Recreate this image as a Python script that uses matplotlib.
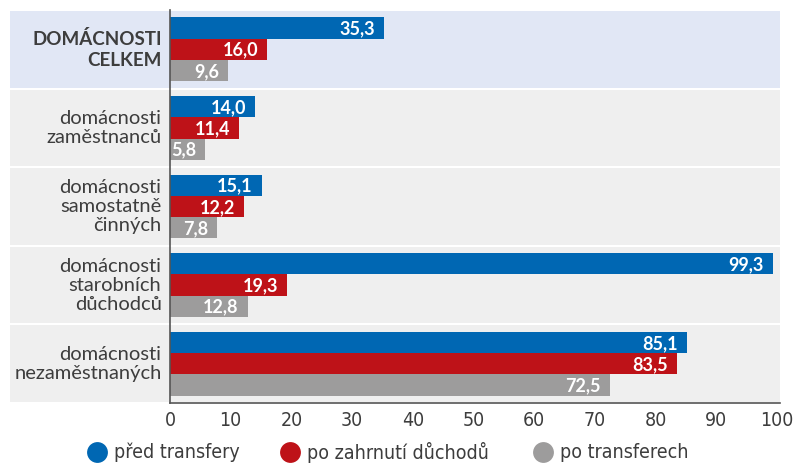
import matplotlib.pyplot as plt
from matplotlib.patches import Rectangle
from matplotlib.lines import Line2D
from matplotlib import font_manager

# data
categories = ['DOMÁCNOSTI\nCELKEM', 'domácnosti\nzaměstnanců', 'domácnosti\nsamostatně\nčinných',
              'domácnosti\nstarobních\ndůchodců', 'domácnosti\nnezaměstnaných']
pred_transfery = [35.3, 14.0, 15.1, 99.3, 85.1]
po_duchodech = [16.0, 11.4, 12.2, 19.3, 83.5]
po_transferech = [9.6, 5.8, 7.8, 12.8, 72.5]
series_names = ['před transfery', 'po zahrnutí důchodů', 'po transferech']
x_ticks = [0, 10, 20, 30, 40, 50, 60, 70, 80, 90, 100]

colors = ['#0067b3', '#be1218', '#9d9c9c']
text_col = '#3d3d3d'
label_font = ['Lato', 'DejaVu Sans']

narrow = font_manager.FontProperties(family=['DejaVu Sans'], stretch='condensed', size=14)

fig = plt.figure(figsize=(8, 4.73), dpi=100)
ax = fig.add_axes([170 / 800, 1 - 403 / 473, 610 / 800, 393 / 473])
xmax = 100 * 610 / 607
ax.set_xlim(0, xmax)
ax.set_ylim(4.5, -0.5)

# background bands (extend into label area)
left_ext = -160 / 607 * 100
for i in range(len(categories)):
    fc = '#e1e7f5' if i == 0 else '#efefef'
    ax.add_patch(Rectangle((left_ext, i - 0.487), xmax - left_ext, 0.974,
                           facecolor=fc, edgecolor='none', clip_on=False, zorder=0))

h = 0.27
series = [pred_transfery, po_duchodech, po_transferech]
for k, vals in enumerate(series):
    ys = [i + (k - 1) * h for i in range(len(categories))]
    ax.barh(ys, vals, height=h, color=colors[k], zorder=2)
    for y, v in zip(ys, vals):
        ax.text(v - 1.5, y + 0.01, f'{v:.1f}'.replace('.', ','), ha='right', va='center',
                color='white', fontsize=13, fontweight='bold', family=label_font, zorder=3)

# category labels
for i, c in enumerate(categories):
    bold = i == 0
    ax.text(-1.4, i, c, ha='right', va='center', ma='right', color=text_col,
            fontsize=13.5 if bold else 14.5, fontweight='bold' if bold else 'normal',
            family=label_font, linespacing=1.15 if not bold else 1.3)

ax.set_yticks([])
ax.set_xticks(x_ticks)
ax.set_xticklabels([str(t) for t in x_ticks], fontproperties=narrow, color=text_col)
ax.tick_params(axis='x', length=0, pad=6)
for s in ['top', 'right']:
    ax.spines[s].set_visible(False)
for s in ['left', 'bottom']:
    ax.spines[s].set_color('#555555')
    ax.spines[s].set_linewidth(1.2)
ax.set_facecolor('none')

# legend drawn by hand
leg_x = [97, 290, 543]
leg_y = 1 - 452 / 473
legend_font = font_manager.FontProperties(family=['DejaVu Sans'], stretch='condensed', size=14)
for x, c, name in zip(leg_x, colors, series_names):
    fig.add_artist(Line2D([x / 800], [leg_y], marker='o', markersize=15, linestyle='none',
                          markerfacecolor=c, markeredgecolor='none', transform=fig.transFigure))
    fig.text((x + 17) / 800, leg_y, name, ha='left', va='center', color=text_col,
             fontproperties=legend_font)

fig.savefig('out.png', dpi=100)
